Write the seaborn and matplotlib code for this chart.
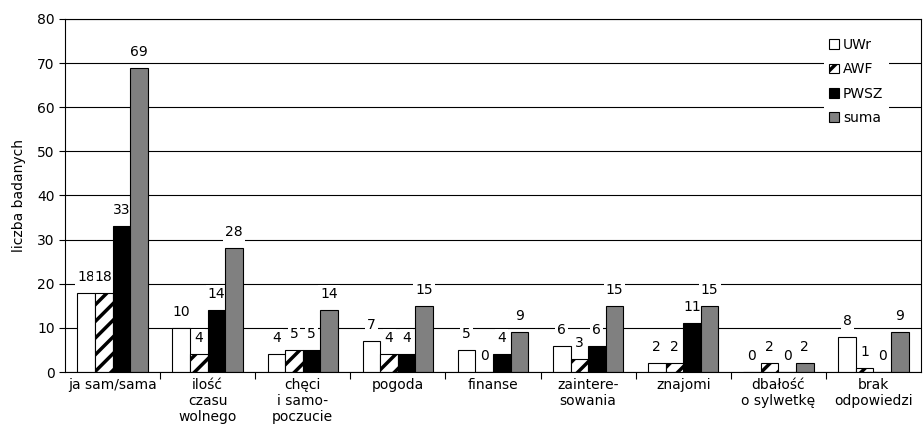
import matplotlib
matplotlib.use("Agg")
import matplotlib.pyplot as plt
import seaborn as sns
import pandas as pd
import numpy as np

categories = ["ja sam/sama", "ilość\nczasu\nwolnego", "chęci\ni samo-\npoczucie", "pogoda",
              "finanse", "zaintere-\nsowania", "znajomi", "dbałość\no sylwetkę", "brak\nodpowiedzi"]
series = ["UWr", "AWF", "PWSZ", "suma"]
uwr = [18, 10, 4, 7, 5, 6, 2, 0, 8]
awf = [18, 4, 5, 4, 0, 3, 2, 2, 1]
pwsz = [33, 14, 5, 4, 4, 6, 11, 0, 0]
suma = [69, 28, 14, 15, 9, 15, 15, 2, 9]
colors = ["white", "white", "black", "#808080"]

rows = []
for s, vals in zip(series, [uwr, awf, pwsz, suma]):
    for c, v in zip(categories, vals):
        rows.append({"kat": c, "seria": s, "val": v})
df = pd.DataFrame(rows)

sns.set_theme(style="white")
plt.rcParams["font.family"] = ["DejaVu Sans"]
plt.rcParams["hatch.linewidth"] = 2.5
for k in ["text.color", "axes.labelcolor", "xtick.color", "ytick.color"]:
    plt.rcParams[k] = "black"
FS = 10

fig = plt.figure(figsize=(9.23, 4.33), dpi=100)
ax = fig.add_axes([65/923, 1-372/433, 856/923, 353/433])

sns.barplot(data=df, x="kat", y="val", hue="seria", hue_order=series, order=categories,
            palette=colors, width=0.74, edgecolor="black", linewidth=0.8, ax=ax,
            legend=True, zorder=2)

for p in ax.containers[1].patches:
    p.set_hatch("//")

for cont in ax.containers:
    for p in cont.patches:
        h = p.get_height()
        x = p.get_x() + p.get_width()/2
        ax.annotate(f"{int(h)}", (x, h), xytext=(0, 11.5), textcoords="offset points",
                    ha="center", va="center", fontsize=FS, color="black",
                    bbox=dict(boxstyle="square,pad=0.15", fc="white", ec="none"), zorder=1.5)

ax.set_ylim(0, 80)
ax.set_xlim(-0.5, len(categories)-0.5)
ax.set_yticks(range(0, 81, 10))
ax.yaxis.grid(True, color="black", linewidth=0.8, zorder=0)
ax.set_axisbelow(True)
ax.set_xlabel("")
ax.set_ylabel("liczba badanych", fontsize=FS, labelpad=8)
ax.tick_params(axis="x", which="major", length=0, labelsize=FS, pad=4)
ax.set_xticks(np.arange(len(categories)-1) + 0.5, minor=True)
ax.tick_params(axis="x", which="minor", length=5, direction="out", color="black", width=0.8, bottom=True)
ax.tick_params(axis="y", length=4, direction="out", color="black", width=0.8, labelsize=FS, left=True)
for sp in ax.spines.values():
    sp.set_color("black")
    sp.set_linewidth(0.8)

leg = ax.legend(loc="upper left", bbox_to_anchor=(0.878, 0.982), frameon=True, fancybox=False,
                edgecolor="none", facecolor="white", framealpha=1, fontsize=FS,
                handlelength=0.7, handleheight=0.7, handletextpad=0.3, labelspacing=0.75,
                borderpad=0.4)
leg.legend_handles[1].set_hatch("//")
leg.set_zorder(6)

fig.savefig("out.png", dpi=100)
